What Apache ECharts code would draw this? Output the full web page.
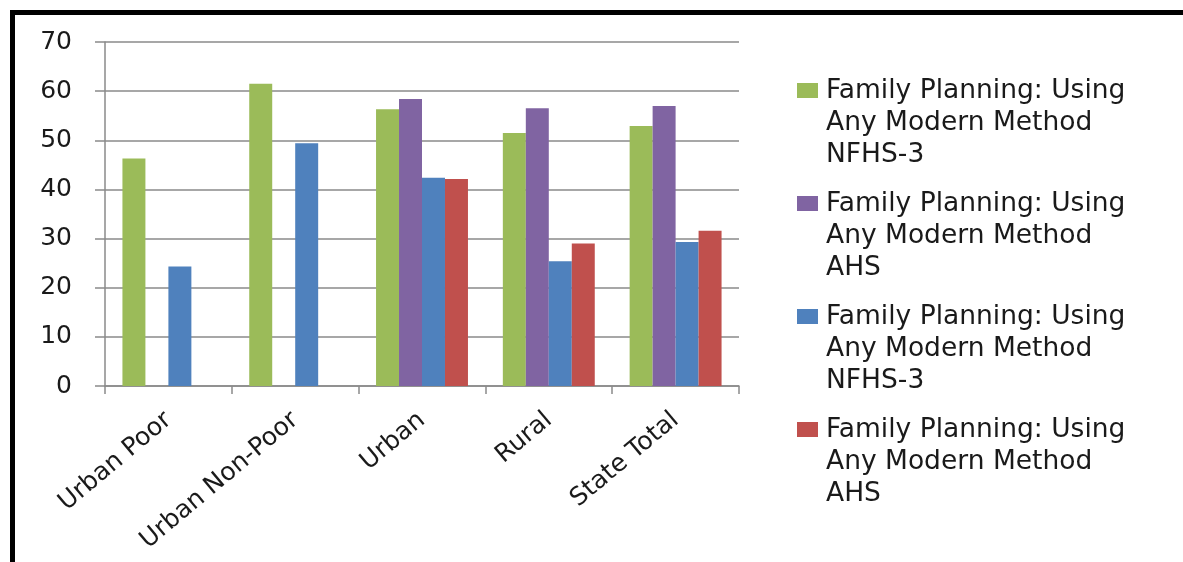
<!DOCTYPE html>
<html>
<head>
<meta charset="utf-8">
<title>Family Planning: Using Any Modern Method</title>
<script src="https://cdn.jsdelivr.net/npm/echarts@6/dist/echarts.min.js"></script>
<style>
  html, body { margin: 0; padding: 0; background: #fff; }
  #chart { width: 1183px; height: 562px; }
</style>
</head>
<body>
<div id="chart"></div>
<script>
// Regions on the category axis
const categories = ['Urban Poor', 'Urban Non-Poor', 'Urban', 'Rural', 'State Total'];

// Percentage of women using any modern family planning method
const nfhs3Green = [46.3, 61.5, 56.3, 51.5, 52.9];
const ahsPurple = [null, null, 58.4, 56.5, 57.0];
const nfhs3Blue = [24.3, 49.4, 42.4, 25.4, 29.3];
const ahsRed = [null, null, 42.1, 29.0, 31.6];

const seriesNames = [
  'Family Planning: Using Any Modern Method NFHS-3',
  'Family Planning: Using Any Modern Method AHS',
  'Family Planning: Using Any Modern Method NFHS-3 ',
  'Family Planning: Using Any Modern Method AHS '
];
const seriesColors = ['#9BBB59', '#8064A2', '#4F81BD', '#C0504D'];
const seriesData = [nfhs3Green, ahsPurple, nfhs3Blue, ahsRed];

// y-axis scale
const yMin = 0, yMax = 70, yStep = 10;

const FONT = 'DejaVu Sans';
const gridColor = '#8a8a8a';

const chart = echarts.init(document.getElementById('chart'), null, { renderer: 'canvas' });

chart.setOption({
  backgroundColor: '#ffffff',
  animation: false,
  textStyle: { fontFamily: FONT },
  grid: { left: 105, right: 444, top: 42, bottom: 176, containLabel: false },
  // heavy frame along the top and left edges
  graphic: [
    { type: 'rect', shape: { x: 10, y: 10, width: 1173, height: 5 }, style: { fill: '#000' }, silent: true },
    { type: 'rect', shape: { x: 10, y: 10, width: 5, height: 552 }, style: { fill: '#000' }, silent: true }
  ],
  legend: {
    orient: 'vertical',
    left: 797,
    top: 75,
    padding: 0,
    itemWidth: 21,
    itemHeight: 96,
    itemGap: 17,
    symbolKeepAspect: false,
    icon: 'path://M0,8h21v15h-21z M0,0h0.01 M0,96h0.01',
    selectedMode: false,
    data: seriesNames,
    formatter: function (name) {
      const t = name.trim();
      return t.replace('Family Planning: Using ', 'Family Planning: Using\n')
              .replace('Any Modern Method ', 'Any Modern Method\n');
    },
    textStyle: {
      fontFamily: FONT,
      fontSize: 26.5,
      color: '#1a1a1a',
      lineHeight: 32,
      padding: [0, 0, 0, 3]
    }
  },
  xAxis: {
    type: 'category',
    data: categories,
    axisLine: { show: true, lineStyle: { color: gridColor, width: 1.5 } },
    axisTick: { show: true, length: 8, alignWithLabel: false, lineStyle: { color: gridColor, width: 1.5 } },
    axisLabel: {
      interval: 0,
      rotate: 40,
      margin: 31,
      fontFamily: FONT,
      fontSize: 25,
      color: '#1a1a1a'
    },
    splitLine: { show: false }
  },
  yAxis: {
    type: 'value',
    min: yMin,
    max: yMax,
    interval: yStep,
    axisLine: { show: true, lineStyle: { color: gridColor, width: 1.5 } },
    axisTick: { show: true, length: 10, lineStyle: { color: gridColor, width: 1.5 } },
    axisLabel: {
      margin: 33,
      fontFamily: FONT,
      fontSize: 25,
      color: '#1a1a1a'
    },
    splitLine: { show: true, lineStyle: { color: gridColor, width: 1.5 } }
  },
  series: seriesNames.map(function (name, i) {
    return {
      name: name,
      type: 'bar',
      data: seriesData[i],
      barGap: '0%',
      barCategoryGap: '27.5%',
      itemStyle: { color: seriesColors[i] }
    };
  })
});
</script>
</body>
</html>
